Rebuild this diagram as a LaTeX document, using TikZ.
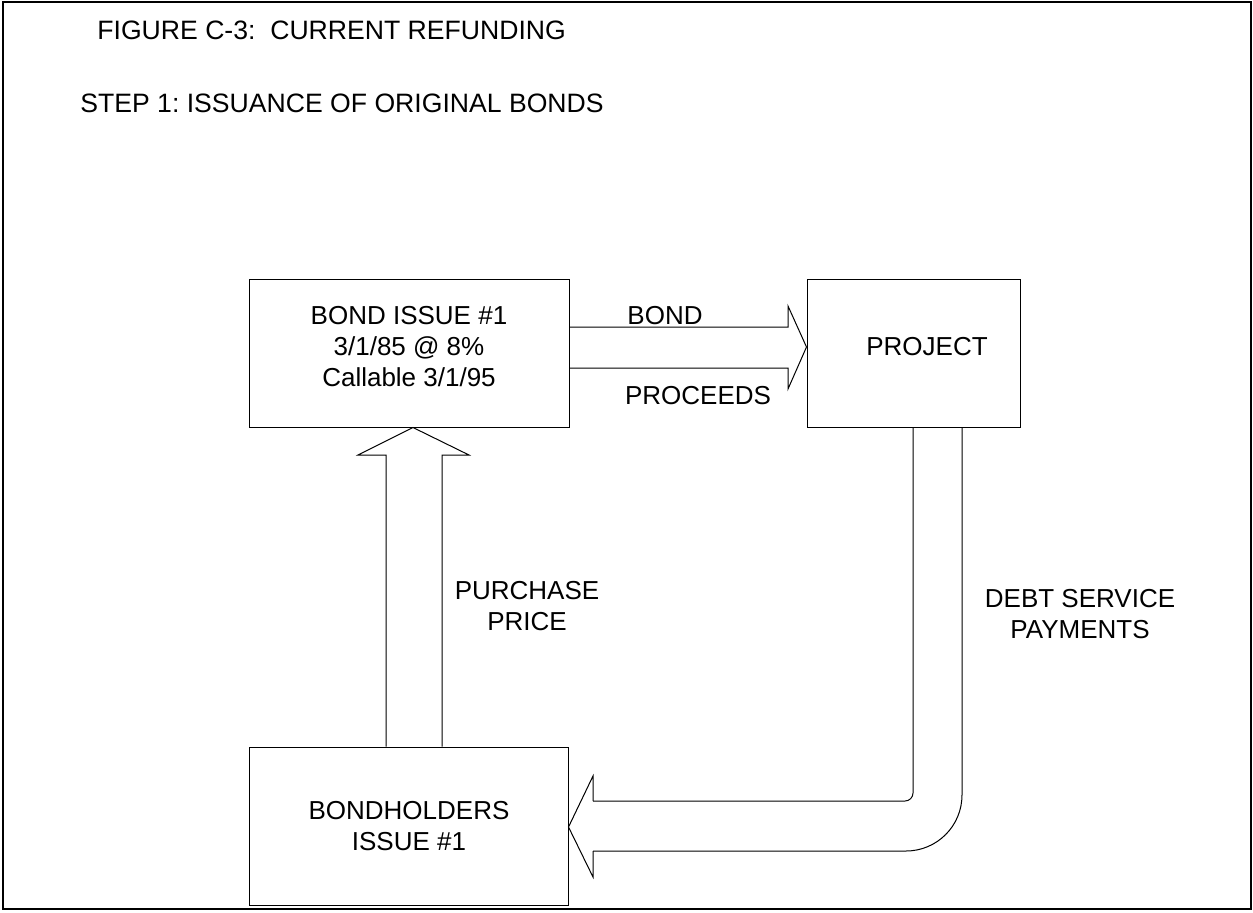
\documentclass[tikz,border=0pt]{standalone}
\usepackage{fontspec}
\setmainfont{Liberation Sans}
\usetikzlibrary{calc, positioning}
\frenchspacing

\begin{document}
\begin{tikzpicture}[x=0.5pt, y=-0.5pt,
    box/.style={draw, line width=0.5pt, inner sep=0pt},
    lbl/.style={align=center, inner sep=0pt, font=\fontsize{13}{15.5}\selectfont},
    head/.style={lbl, anchor=base west, font=\fontsize{13.3}{15.5}\selectfont},
    fat/.style={draw, line width=0.5pt, line join=miter}]
    \useasboundingbox (0,0) rectangle (1253,912);
    \draw[line width=1pt] (3,2) rectangle (1251,909);
    \node[head] (title) at (97,39) {FIGURE C-3:\ \ CURRENT REFUNDING};
    \node[head] (step) at (80,112) {STEP 1: ISSUANCE OF ORIGINAL BONDS};
    % boxes
    \node[box, minimum width=160pt, minimum height=74pt] (issue) at (409,353) {};
    \node[box, minimum width=106.5pt, minimum height=74pt] (project) at (913.5,353) {};
    \node[box, minimum width=159.5pt, minimum height=79pt] (holders) at (408.5,826) {};
    \node[lbl] (issuetext) at (409,347) {BOND ISSUE \#1\\3/1/85 @ 8\%\\Callable 3/1/95};
    \node[lbl] (projecttext) at (927,347) {PROJECT};
    \node[lbl] (holderstext) at (409,826) {BONDHOLDERS\\ISSUE \#1};
    % arrows
    \draw[fat] (issue.east |- 0,327) -- (788,327) -- (788,306) -- (project.west |- 0,347)
        -- (788,389) -- (788,368) -- (issue.east |- 0,368);
    \draw[fat] (386,0 |- holders.north) -- (386,455) -- (358,455) -- (413,0 |- issue.south)
        -- (469,455) -- (442,455) -- (442,0 |- holders.north);
    \draw[fat, rounded corners=4pt] (913,0 |- project.south) -- (913,801) -- (593,801);
    \draw[fat] (593,801) -- (593,776) -- (holders.east |- 0,827) -- (593,877) -- (593,851);
    \draw[fat, rounded corners=28pt] (593,851) -- (962,851) -- (962,0 |- project.south);
    % labels
    \node[lbl] (bond) at (665,316) {BOND};
    \node[lbl] (proceeds) at (698,396) {PROCEEDS};
    \node[lbl] (price) at (527,606) {PURCHASE\\PRICE};
    \node[lbl] (service) at (1080,614) {DEBT SERVICE\\PAYMENTS};
\end{tikzpicture}
\end{document}
